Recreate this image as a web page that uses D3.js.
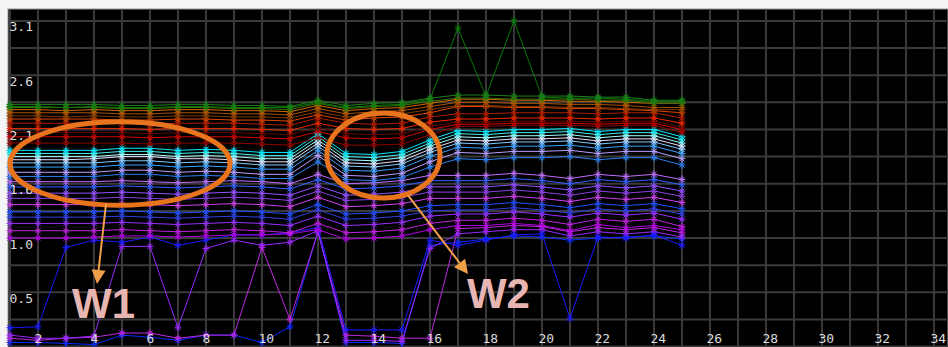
<!DOCTYPE html>
<html>
<head>
<meta charset="utf-8">
<script src="https://d3js.org/d3.v7.min.js"></script>
<style>
  html, body { margin: 0; padding: 0; background: #f4f4f4; }
  svg { display: block; }
</style>
</head>
<body>
<svg id="chart"></svg>
<script>
// x positions of the samples
const xValues = [1,2,3,4,5,6,7,8,9,10,11,12,13,14,15,16,17,18,19,20,21,22,23,24,25];

// tick labels
const xTickValues = [2,4,6,8,10,12,14,16,18,20,22,24,26,28,30,32,34];
const yTickValues = [0.52,1.04,1.56,2.08,2.6,3.12];
const yGridValues = [0,0.26,0.52,0.78,1.04,1.3,1.56,1.82,2.08,2.34,2.6,2.86,3.12];

// green / orange band
const u1 = [2.32,2.32,2.32,2.32,2.31,2.31,2.32,2.32,2.31,2.31,2.30,2.36,2.31,2.33,2.34,2.38,2.41,2.41,2.40,2.40,2.40,2.39,2.39,2.36,2.36];
const u2 = [2.30,2.30,2.29,2.30,2.29,2.29,2.30,2.30,2.29,2.29,2.29,2.34,2.29,2.31,2.32,2.37,3.05,2.40,3.12,2.39,2.38,2.38,2.37,2.35,2.35];
const u3 = [2.29,2.29,2.29,2.29,2.28,2.28,2.29,2.29,2.28,2.28,2.27,2.33,2.28,2.30,2.31,2.35,2.38,2.38,2.37,2.37,2.37,2.36,2.36,2.33,2.33];
const u4 = [2.27,2.27,2.26,2.27,2.26,2.26,2.27,2.27,2.26,2.26,2.25,2.31,2.26,2.28,2.29,2.33,2.37,2.37,2.36,2.36,2.35,2.35,2.34,2.33,2.33];
const u5 = [2.24,2.24,2.24,2.24,2.23,2.23,2.24,2.24,2.23,2.23,2.22,2.28,2.23,2.25,2.26,2.30,2.34,2.34,2.33,2.33,2.32,2.32,2.31,2.29,2.29];
const u6 = [2.21,2.21,2.20,2.21,2.20,2.20,2.21,2.21,2.20,2.20,2.19,2.25,2.20,2.22,2.23,2.27,2.31,2.31,2.30,2.30,2.29,2.29,2.28,2.27,2.27];
const u7 = [2.18,2.18,2.18,2.18,2.17,2.17,2.18,2.18,2.17,2.17,2.16,2.22,2.17,2.19,2.20,2.24,2.30,2.30,2.29,2.29,2.28,2.28,2.27,2.26,2.24];

// red band
const r1 = [2.14,2.14,2.14,2.14,2.14,2.13,2.14,2.14,2.14,2.13,2.12,2.19,2.14,2.13,2.14,2.20,2.23,2.23,2.24,2.24,2.24,2.23,2.24,2.24,2.19];
const r2 = [2.09,2.09,2.09,2.09,2.09,2.08,2.09,2.09,2.09,2.08,2.07,2.14,2.09,2.08,2.09,2.15,2.18,2.18,2.19,2.19,2.19,2.18,2.19,2.19,2.14];
const r3 = [2.05,2.05,2.05,2.05,2.05,2.04,2.05,2.05,2.05,2.04,2.03,2.10,2.04,2.03,2.04,2.11,2.15,2.15,2.16,2.16,2.16,2.15,2.16,2.16,2.10];
const r4 = [2.01,2.01,2.01,2.01,2.01,2.00,2.01,2.01,2.01,2.00,1.99,2.06,2.00,1.99,2.00,2.08,2.13,2.13,2.14,2.14,2.14,2.13,2.14,2.14,2.08];
const r5 = [1.95,1.95,1.95,1.95,1.95,1.94,1.95,1.95,1.95,1.94,1.93,2.00,1.93,1.93,1.94,2.03,2.11,2.11,2.12,2.12,2.12,2.11,2.12,2.12,2.05];

// cyan / light blue band
const c1 = [1.88,1.88,1.88,1.88,1.90,1.90,1.88,1.89,1.88,1.86,1.86,2.04,1.85,1.84,1.87,1.98,2.07,2.06,2.08,2.08,2.09,2.06,2.08,2.08,2.01];
const c2 = [1.85,1.85,1.85,1.85,1.87,1.87,1.85,1.86,1.85,1.83,1.83,2.01,1.82,1.81,1.84,1.95,2.04,2.03,2.05,2.05,2.06,2.03,2.05,2.05,1.98];
const c3 = [1.82,1.82,1.82,1.82,1.84,1.84,1.82,1.83,1.82,1.80,1.80,1.98,1.79,1.78,1.81,1.92,2.01,2.00,2.02,2.02,2.03,2.00,2.02,2.02,1.95];
const c4 = [1.79,1.79,1.79,1.80,1.82,1.82,1.80,1.80,1.79,1.77,1.77,1.95,1.76,1.75,1.78,1.89,1.98,1.97,1.99,1.99,2.00,1.97,1.99,1.99,1.92];
const c5 = [1.76,1.76,1.76,1.76,1.78,1.78,1.76,1.77,1.76,1.74,1.74,1.92,1.73,1.72,1.75,1.86,1.95,1.94,1.96,1.96,1.97,1.94,1.96,1.96,1.89];
const c6 = [1.72,1.72,1.72,1.72,1.74,1.74,1.72,1.73,1.72,1.70,1.70,1.88,1.69,1.68,1.71,1.82,1.91,1.90,1.92,1.92,1.93,1.90,1.92,1.92,1.85];
const c7 = [1.67,1.67,1.67,1.67,1.69,1.69,1.67,1.68,1.67,1.65,1.65,1.83,1.64,1.63,1.66,1.77,1.86,1.85,1.87,1.87,1.88,1.85,1.87,1.87,1.80];
const c8 = [1.63,1.63,1.63,1.63,1.65,1.65,1.63,1.64,1.63,1.61,1.61,1.77,1.60,1.59,1.62,1.72,1.80,1.79,1.81,1.81,1.82,1.79,1.81,1.81,1.74];

// purple / blue band
const l1 = [1.58,1.58,1.58,1.58,1.59,1.58,1.57,1.58,1.59,1.58,1.56,1.65,1.56,1.57,1.59,1.64,1.64,1.64,1.66,1.64,1.61,1.65,1.63,1.65,1.60];
const l2 = [1.53,1.53,1.53,1.53,1.54,1.53,1.52,1.53,1.54,1.53,1.51,1.60,1.51,1.52,1.54,1.59,1.59,1.59,1.61,1.59,1.56,1.60,1.58,1.60,1.55];
const l3 = [1.47,1.47,1.47,1.47,1.48,1.47,1.46,1.47,1.48,1.47,1.45,1.54,1.45,1.46,1.48,1.53,1.53,1.53,1.55,1.53,1.50,1.54,1.52,1.54,1.49];
const l4 = [1.42,1.42,1.42,1.42,1.43,1.42,1.41,1.42,1.43,1.42,1.40,1.49,1.40,1.41,1.43,1.48,1.48,1.48,1.50,1.48,1.45,1.49,1.47,1.49,1.44];
const l5 = [1.36,1.36,1.36,1.36,1.37,1.36,1.35,1.36,1.37,1.36,1.34,1.43,1.34,1.35,1.37,1.42,1.42,1.42,1.44,1.42,1.39,1.43,1.41,1.43,1.38];
const l6 = [1.29,1.29,1.29,1.29,1.30,1.29,1.28,1.29,1.30,1.29,1.27,1.36,1.27,1.28,1.30,1.35,1.36,1.36,1.38,1.36,1.33,1.37,1.35,1.37,1.32];
const l7 = [1.24,1.24,1.24,1.24,1.25,1.24,1.23,1.24,1.25,1.24,1.22,1.31,1.22,1.23,1.25,1.30,1.31,1.31,1.33,1.31,1.28,1.32,1.30,1.32,1.27];
const l8 = [1.18,1.18,1.18,1.18,1.19,1.18,1.17,1.18,1.19,1.18,1.16,1.25,1.16,1.17,1.19,1.25,1.27,1.27,1.29,1.27,1.24,1.28,1.26,1.28,1.22];
const l9 = [1.11,1.11,1.11,1.11,1.12,1.11,1.10,1.11,1.12,1.11,1.09,1.18,1.09,1.10,1.12,1.18,1.21,1.21,1.23,1.21,1.17,1.22,1.20,1.22,1.15];
const l10 = [1.04,1.04,1.04,1.05,1.06,1.06,1.05,1.06,1.07,1.07,1.08,1.12,1.03,1.04,1.06,1.12,1.16,1.16,1.18,1.16,1.11,1.17,1.14,1.16,1.12];

// lines that drop out to the bottom
const drop1 = [0.18,0.19,0.95,1.02,1.00,1.05,0.97,1.02,1.07,1.07,1.09,1.14,0.16,0.16,0.16,1.02,0.97,1.02,1.07,1.08,0.27,1.05,1.04,1.07,0.97];
const drop2 = [0.11,0.08,0.08,0.10,0.96,0.96,0.18,0.94,1.02,0.97,1.00,1.11,0.06,0.06,0.05,0.94,1.08,1.10,1.12,1.12,1.06,1.10,1.08,1.10,1.05];
const drop3 = [0.08,0.06,0.08,0.09,0.13,0.13,0.08,0.11,0.11,0.95,0.26,1.10,0.11,0.10,0.08,0.08,1.13,1.14,1.16,1.15,1.10,1.14,1.12,1.14,1.09];
const drop4 = [0.04,0.04,0.03,0.02,0.11,0.09,0.06,0.11,0.11,0.04,0.19,1.10,0.04,0.04,0.03,0.97,1.00,1.03,1.06,1.05,1.02,1.04,1.05,1.06,1.03];

const seriesList = [drop4, drop3, drop2, drop1, l10, l9, l8, l7, l6, l5, l4, l3, l2, l1,
  c8, c7, c6, c5, c4, c3, c2, c1, r5, r4, r3, r2, r1, u7, u6, u5, u4, u3, u2, u1];
const lineColors = ['#0a2aff', '#c028e0', '#9a28ff', '#1a1aff', '#b000e0', '#c020e0', '#9a30ff', '#3040e0', '#2050ff', '#d040f0', '#8a40e0', '#9050ff', '#3060ff', '#c070ff',
  '#2a80f0', '#b8a0ff', '#3aa0ff', '#80c8ff', '#e8e0ff', '#a8ffff', '#40f0f0', '#00e8ff',
  '#900000', '#d80000', '#600600', '#f02800', '#b01c00',
  '#e04400', '#7a3800', '#a85000', '#d06800', '#3e7000', '#0a7a0a', '#1c801c'];

// annotations (data units)
const ellipses = [
  { cx: 4.93, cy: 1.754, rx: 3.93, ry: 0.40 },
  { cx: 14.34, cy: 1.83, rx: 2.02, ry: 0.407 }
];
const arrows = [
  { x1: 4.43, y1: 1.366, x2: 4.11, y2: 0.60 },
  { x1: 15.21, y1: 1.452, x2: 17.36, y2: 0.695 }
];
const notes = [
  { x: 3.22, y: 0.274, text: 'W1' },
  { x: 17.32, y: 0.37, text: 'W2' }
];

const width = 948, height = 347;
const svg = d3.select('#chart').attr('width', width).attr('height', height);

const x = d3.scaleLinear().domain([0.93, 34.43]).range([8, 948 - 2]);
const y = d3.scaleLinear().domain([0, 3.234]).range([346.6, 9]);

// plot background
svg.append('rect')
  .attr('x', 8).attr('y', 9)
  .attr('width', width - 8).attr('height', height - 9)
  .attr('fill', '#000')
  .attr('stroke', '#9a9a9a')
  .attr('stroke-width', 1);

// grid
const grid = svg.append('g').attr('stroke', '#3a3a3a').attr('stroke-width', 2);
grid.selectAll('line.v')
  .data(d3.range(1, 35))
  .enter().append('line')
  .attr('class', 'v')
  .attr('x1', d => x(d)).attr('x2', d => x(d))
  .attr('y1', 9.5).attr('y2', height);
grid.selectAll('line.h')
  .data(yGridValues)
  .enter().append('line')
  .attr('class', 'h')
  .attr('x1', 8.5).attr('x2', width)
  .attr('y1', d => y(d)).attr('y2', d => y(d));

// lines + star markers
const line = d3.line().x((d, i) => x(xValues[i])).y(d => y(d));
const star = 'M-3.5,0H3.5M0,-4V4M-2.6,-2.6L2.6,2.6M-2.6,2.6L2.6,-2.6';

const gLines = svg.append('g');
seriesList.forEach((s, k) => {
  const col = lineColors[k];
  gLines.append('path')
    .attr('d', line(s))
    .attr('fill', 'none')
    .attr('stroke', col)
    .attr('stroke-width', 1);
  gLines.append('g')
    .selectAll('path')
    .data(s)
    .enter().append('path')
    .attr('d', star)
    .attr('transform', (d, i) => `translate(${x(xValues[i])},${y(d)})`)
    .attr('fill', 'none')
    .attr('stroke', col)
    .attr('stroke-width', 1);
});

// axis labels drawn inside the plot
const labelFont = '"DejaVu Sans Mono", monospace';
svg.append('g').selectAll('text')
  .data(yTickValues)
  .enter().append('text')
  .attr('x', 9.5)
  .attr('y', d => y(d) + 10.5)
  .attr('font-family', labelFont)
  .attr('font-size', 13)
  .attr('fill', '#dcdcdc')
  .text(d => d.toFixed(1));

svg.append('g').selectAll('text')
  .data(xTickValues)
  .enter().append('text')
  .attr('x', d => x(d) - 3.5)
  .attr('y', 343)
  .attr('font-family', labelFont)
  .attr('font-size', 13)
  .attr('fill', '#dcdcdc')
  .text(d => d);

// annotations
const ann = svg.append('g');
ann.selectAll('ellipse')
  .data(ellipses)
  .enter().append('ellipse')
  .attr('cx', d => x(d.cx)).attr('cy', d => y(d.cy))
  .attr('rx', d => x(d.cx + d.rx) - x(d.cx))
  .attr('ry', d => y(d.cy - d.ry) - y(d.cy))
  .attr('fill', 'none')
  .attr('stroke', '#e8741e')
  .attr('stroke-width', 5);

arrows.forEach(a => {
  const x1 = x(a.x1), y1 = y(a.y1), x2 = x(a.x2), y2 = y(a.y2);
  const ang = Math.atan2(y2 - y1, x2 - x1);
  const len = 14, half = 7;
  const bx = x2 - len * Math.cos(ang), by = y2 - len * Math.sin(ang);
  ann.append('line')
    .attr('x1', x1).attr('y1', y1).attr('x2', bx).attr('y2', by)
    .attr('stroke', '#f0a048').attr('stroke-width', 2);
  const p1 = [bx + half * Math.sin(ang), by - half * Math.cos(ang)];
  const p2 = [bx - half * Math.sin(ang), by + half * Math.cos(ang)];
  ann.append('polygon')
    .attr('points', `${x2},${y2} ${p1[0]},${p1[1]} ${p2[0]},${p2[1]}`)
    .attr('fill', '#f0a048');
});

ann.selectAll('text')
  .data(notes)
  .enter().append('text')
  .attr('x', d => x(d.x)).attr('y', d => y(d.y))
  .attr('font-family', '"Liberation Sans", Arial, sans-serif')
  .attr('font-weight', 'bold')
  .attr('font-size', 42)
  .attr('fill', '#e8b6b2')
  .text(d => d.text);
</script>
</body>
</html>
